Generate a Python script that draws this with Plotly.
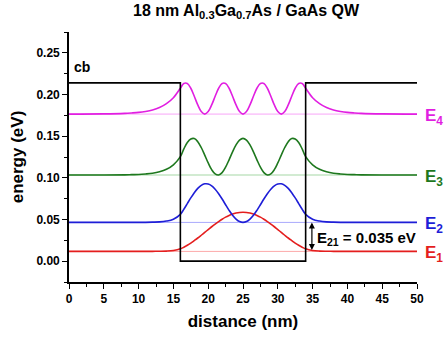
import plotly.graph_objects as go

# ---- data ----
x_wave = [0, 5, 8, 9, 10, 11, 12, 13, 14, 15,
          16, 16.5, 17, 17.5, 18, 18.5, 19, 19.5, 20, 20.5, 21, 21.5, 22, 22.5, 23, 23.5, 24, 24.5,
          25, 25.5, 26, 26.5, 27, 27.5, 28, 28.5, 29, 29.5, 30, 30.5, 31, 31.5, 32, 32.5, 33, 33.5, 34,
          35, 36, 37, 38, 39, 40, 41, 42, 45, 50]

psi1 = [0.0117, 0.0117, 0.0117, 0.0117, 0.0117, 0.0117, 0.0118, 0.0119, 0.0121, 0.0128,
        0.0148, 0.0168, 0.0191, 0.0217, 0.0247, 0.0278, 0.0311, 0.0345, 0.0379, 0.0413, 0.0445, 0.0475,
        0.0503, 0.0528, 0.0548, 0.0565, 0.0577, 0.0585, 0.0587, 0.0585, 0.0577, 0.0565, 0.0548, 0.0528,
        0.0503, 0.0475, 0.0445, 0.0413, 0.0379, 0.0345, 0.0311, 0.0278, 0.0247, 0.0217, 0.0191, 0.0168, 0.0148,
        0.0128, 0.0121, 0.0119, 0.0118, 0.0117, 0.0117, 0.0117, 0.0117, 0.0117, 0.0117]

psi2 = [0.0465, 0.0465, 0.0465, 0.0465, 0.0465, 0.0466, 0.0468, 0.0471, 0.0481, 0.0504,
        0.0562, 0.0623, 0.0691, 0.0759, 0.0822, 0.0874, 0.0910, 0.0928, 0.0926, 0.0904, 0.0864, 0.0810,
        0.0746, 0.0677, 0.0610, 0.0551, 0.0505, 0.0475, 0.0465, 0.0475, 0.0505, 0.0551, 0.0610, 0.0677,
        0.0746, 0.0810, 0.0864, 0.0904, 0.0926, 0.0928, 0.0910, 0.0874, 0.0822, 0.0759, 0.0691, 0.0623, 0.0562,
        0.0504, 0.0481, 0.0471, 0.0468, 0.0466, 0.0465, 0.0465, 0.0465, 0.0465, 0.0465]

psi3 = [0.1034, 0.1034, 0.1036, 0.1038, 0.1040, 0.1046, 0.1055, 0.1072, 0.1102, 0.1156,
        0.1254, 0.1347, 0.1423, 0.1466, 0.1471, 0.1434, 0.1364, 0.1273, 0.1179, 0.1098, 0.1047, 0.1035,
        0.1063, 0.1128, 0.1216, 0.1311, 0.1395, 0.1453, 0.1474, 0.1453, 0.1395, 0.1311, 0.1216, 0.1128,
        0.1063, 0.1035, 0.1047, 0.1098, 0.1179, 0.1273, 0.1364, 0.1434, 0.1471, 0.1466, 0.1423, 0.1347, 0.1254,
        0.1156, 0.1102, 0.1072, 0.1055, 0.1046, 0.1040, 0.1038, 0.1036, 0.1034, 0.1034]

psi4 = [0.1765, 0.1767, 0.1773, 0.1778, 0.1785, 0.1797, 0.1815, 0.1844, 0.1890, 0.1962,
        0.2075, 0.2132, 0.2132, 0.2075, 0.1979, 0.1875, 0.1795, 0.1765, 0.1795, 0.1875, 0.1979, 0.2075,
        0.2132, 0.2132, 0.2075, 0.1979, 0.1875, 0.1795, 0.1765, 0.1795, 0.1875, 0.1979, 0.2075, 0.2132,
        0.2132, 0.2075, 0.1979, 0.1875, 0.1795, 0.1765, 0.1795, 0.1875, 0.1979, 0.2075, 0.2132, 0.2132, 0.2075,
        0.1962, 0.1890, 0.1844, 0.1815, 0.1797, 0.1785, 0.1778, 0.1773, 0.1767, 0.1765]

levels = [0.0117, 0.0465, 0.1034, 0.1765]
level_names = ["E<sub>1</sub>", "E<sub>2</sub>", "E<sub>3</sub>", "E<sub>4</sub>"]

well_x = [0, 16, 16, 34, 34, 50]
well_y = [0.214, 0.214, 0, 0, 0.214, 0.214]

x_ticks = [0, 5, 10, 15, 20, 25, 30, 35, 40, 45, 50]
y_ticks = [0.00, 0.05, 0.10, 0.15, 0.20, 0.25]

e21_text = "E<sub>21</sub> = 0.035 eV"

# ---- styling ----
dark = ["rgb(228,30,30)", "rgb(30,30,215)", "rgb(30,120,30)", "rgb(225,30,225)"]
light = ["rgb(252,170,170)", "rgb(170,170,252)", "rgb(165,215,165)", "rgb(248,165,248)"]
waves = [psi1, psi2, psi3, psi4]
FONT = "Liberation Sans"

fig = go.Figure()

for i, lv in enumerate(levels):
    fig.add_trace(go.Scatter(x=[x_wave[0], x_wave[-1]], y=[lv, lv], mode="lines",
                             line=dict(color=light[i], width=1), hoverinfo="skip"))

for i, w in enumerate(waves):
    fig.add_trace(go.Scatter(x=x_wave, y=w, mode="lines",
                             line=dict(color=dark[i], width=1.6, shape="spline", smoothing=1),
                             hoverinfo="skip"))

fig.add_trace(go.Scatter(x=well_x, y=well_y, mode="lines",
                         line=dict(color="black", width=1.6), hoverinfo="skip"))

annotations = []
for i, lv in enumerate(levels):
    annotations.append(dict(x=50, y=lv, xref="x", yref="y", text=level_names[i],
                            showarrow=False, xanchor="left", yanchor="middle",
                            xshift=6, yshift=-3,
                            font=dict(family=FONT, size=17, color=dark[i], weight="bold")))

annotations.append(dict(x=0.4, y=0.2205, xref="x", yref="y", text="cb", showarrow=False,
                        xanchor="left", yanchor="bottom",
                        font=dict(family=FONT, size=14, color="black", weight="bold")))

annotations.append(dict(x=35.4, y=0.0275, xref="x", yref="y", text=e21_text, showarrow=False,
                        xanchor="left", yanchor="middle",
                        font=dict(family=FONT, size=15, color="black", weight="bold")))

annotations.append(dict(x=34.9, y=levels[1], ax=34.9, ay=levels[0], xref="x", yref="y",
                        axref="x", ayref="y", text="", showarrow=True, arrowhead=2,
                        arrowside="end+start", arrowsize=1, arrowwidth=1.2, arrowcolor="black",
                        standoff=0, startstandoff=0))

annotations.append(dict(x=0.51, y=1.08, xref="paper", yref="paper",
                        text="18 nm Al<sub>0.3</sub>Ga<sub>0.7</sub>As / GaAs QW", showarrow=False,
                        xanchor="center", yanchor="middle",
                        font=dict(family=FONT, size=16, color="black", weight="bold")))

fig.update_layout(
    width=444, height=340,
    margin=dict(l=69, r=27, t=32, b=54),
    paper_bgcolor="white", plot_bgcolor="white",
    showlegend=False,
    annotations=annotations,
    xaxis=dict(range=[0, 50], tickvals=x_ticks, ticktext=[str(v) for v in x_ticks],
               showgrid=False, zeroline=False, showline=True, linecolor="black", linewidth=1.6,
               ticks="outside", ticklen=5, tickwidth=1.4, tickcolor="black",
               minor=dict(dtick=2.5, tick0=0, ticks="outside", ticklen=3, tickwidth=1.2,
                          tickcolor="black", showgrid=False),
               tickfont=dict(family=FONT, size=12, color="black", weight="bold"),
               title=dict(text="distance (nm)", standoff=10,
                          font=dict(family=FONT, size=17, color="black", weight="bold"))),
    yaxis=dict(range=[-0.025, 0.275], tickvals=y_ticks, ticktext=["%.2f" % v for v in y_ticks],
               showgrid=False, zeroline=False, showline=True, linecolor="black", linewidth=1.6,
               ticks="outside", ticklen=5, tickwidth=1.4, tickcolor="black",
               minor=dict(dtick=0.025, tick0=0, ticks="outside", ticklen=3, tickwidth=1.2,
                          tickcolor="black", showgrid=False),
               tickfont=dict(family=FONT, size=12, color="black", weight="bold"),
               title=dict(text="energy (eV)", standoff=8,
                          font=dict(family=FONT, size=17, color="black", weight="bold"))),
)

fig.write_html("out.html")
